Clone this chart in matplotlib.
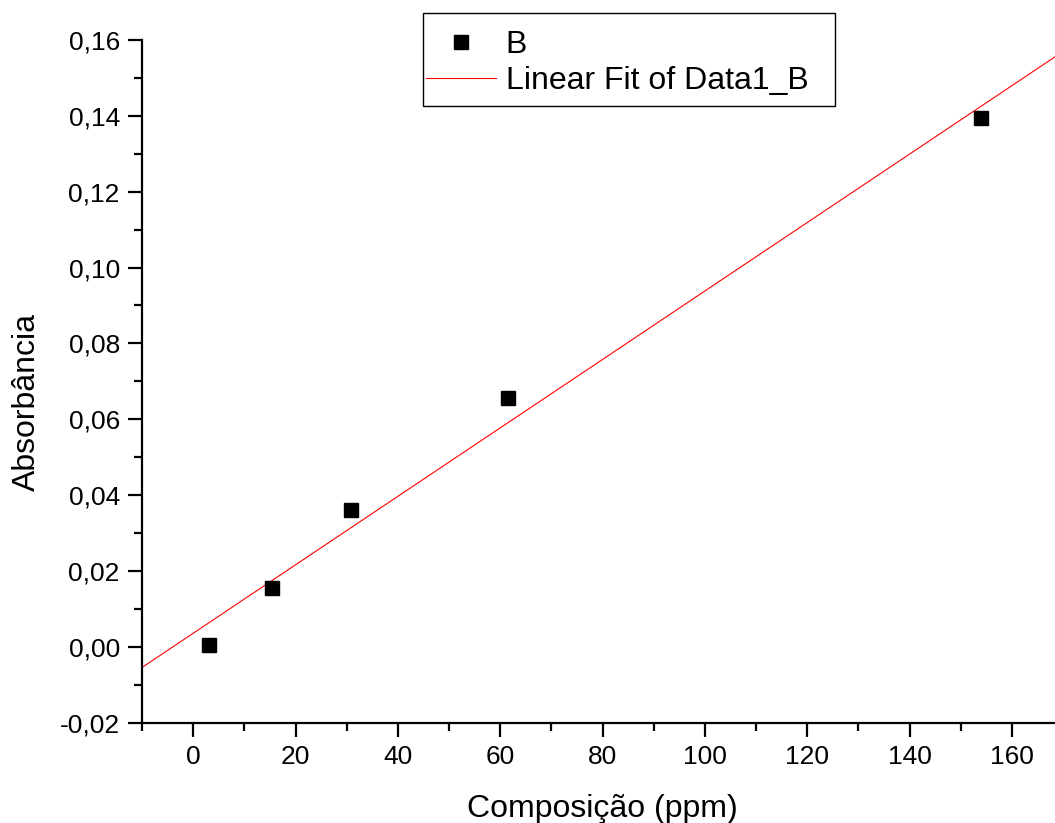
import numpy as np
import matplotlib
matplotlib.use("Agg")
import matplotlib.pyplot as plt
from matplotlib.patches import Rectangle
from matplotlib.ticker import MultipleLocator, FuncFormatter

plt.rcParams['font.family'] = ['Liberation Sans', 'DejaVu Sans']

# data
composicao = [3.08, 15.4, 30.8, 61.6, 154.0]
absorbancia = [0.0006, 0.0154, 0.0360, 0.0655, 0.1394]

x_min, x_max = -10, 170
y_min, y_max = -0.02, 0.16

# linear fit of the points
slope, intercept = np.polyfit(composicao, absorbancia, 1)
fit_x = np.array([x_min, x_max])
fit_y = slope * fit_x + intercept

W, H = 1055, 823
fig = plt.figure(figsize=(W / 100, H / 100), dpi=100)
ax = fig.add_axes([142 / W, 1 - 722.7 / H, 921 / W, 682.7 / H])

ax.plot(composicao, absorbancia, 's', color='black', markersize=9.5,
        label='B', zorder=3)
ax.plot(fit_x, fit_y, '-', color='red', linewidth=0.8,
        label='Linear Fit of Data1_B')

ax.set_xlim(x_min, x_max)
ax.set_ylim(y_min, y_max)

for side in ['top', 'right']:
    ax.spines[side].set_visible(False)
for side in ['left', 'bottom']:
    ax.spines[side].set_linewidth(1.6)

ax.xaxis.set_major_locator(MultipleLocator(20))
ax.xaxis.set_minor_locator(MultipleLocator(10))
ax.yaxis.set_major_locator(MultipleLocator(0.02))
ax.yaxis.set_minor_locator(MultipleLocator(0.01))

ax.yaxis.set_major_formatter(FuncFormatter(lambda v, p: f"{v:.2f}".replace('.', ',')))
ax.xaxis.set_major_formatter(FuncFormatter(lambda v, p: f"{v:.0f}"))

ax.tick_params(which='major', direction='out', length=10, width=1.6,
               labelsize=19, pad=6)
ax.tick_params(which='minor', direction='out', length=5.5, width=1.6)

ax.set_xlabel('Composição (ppm)', fontsize=23)
ax.set_ylabel('Absorbância', fontsize=23)
ax.xaxis.set_label_coords(0.5, -0.104)
ax.yaxis.set_label_coords(-0.1086, 1 - (402 - 40) / 682.7)

# legend without its own frame, box drawn separately (Origin style)
ax.legend(loc='upper left', bbox_to_anchor=(426 / W, 1 - 30 / H),
          bbox_transform=fig.transFigure, fontsize=23, frameon=False,
          handlelength=2.2, handletextpad=0.3, borderpad=0,
          labelspacing=0.2, borderaxespad=0)
fig.patches.append(Rectangle((423 / W, 1 - 106 / H), 412 / W, 93 / H,
                             transform=fig.transFigure, fill=False,
                             edgecolor='black', linewidth=1.0))

fig.savefig('out.png', dpi=100)
